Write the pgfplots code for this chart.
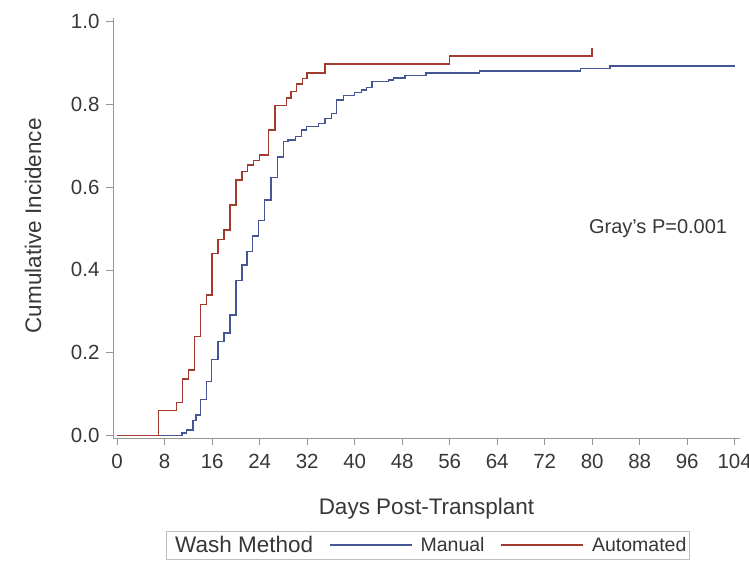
\documentclass[border=0pt]{standalone}
\usepackage{pgfplots}
\pgfplotsset{compat=1.18}
\usepackage{fontspec}
\setmainfont{Liberation Sans}
\definecolor{sasblue}{HTML}{445694}
\definecolor{sasred}{HTML}{A23A2E}
\definecolor{axgray}{RGB}{150,150,150}
\definecolor{txt}{RGB}{55,55,55}
\begin{document}
\begin{tikzpicture}
\begin{axis}[
 scale only axis, width=627pt, height=420pt,
 xmin=-0.7, xmax=104.9, ymin=-0.006, ymax=1.0085,
 axis x line*=bottom, axis y line*=left,
 axis line style={axgray, line width=0.8pt, -},
 tick style={axgray, line width=0.8pt},
 tick align=outside, major tick length=7pt,
 xtick={0,8,...,104}, ytick={0,0.2,0.4,0.6,0.8,1.0},
 y tick label style={/pgf/number format/.cd, fixed, fixed zerofill, precision=1, /tikz/.cd, xshift=-3pt},
 x tick label style={yshift=-6pt},
 /pgf/number format/assume math mode=true,
 ticklabel style={font=\fontsize{20.5}{23}\selectfont, text=txt},
 xlabel={Days Post-Transplant}, ylabel={Cumulative Incidence},
 every axis x label/.style={at={(axis description cs:0.5,-0.181)}, anchor=base, font=\fontsize{22.5}{26}\selectfont, text=txt},
 every axis y label/.style={at={(axis description cs:-0.1276,0.505)}, rotate=90, anchor=center, font=\fontsize{22.5}{26}\selectfont, text=txt},
 legend columns=3,
 legend style={at={(axis description cs:0.502,-0.2214)}, anchor=north, draw=black!25, line width=0.6pt,
   font=\fontsize{19.5}{22}\selectfont, text=txt, inner ysep=3pt, inner xsep=1pt,
   column sep=6pt, /tikz/every even column/.append style={column sep=14pt}},
 legend image code/.code={\draw[#1, line width=1.5pt] (0pt,0pt) -- (82pt,0pt);},
 const plot,
]
\addlegendimage{empty legend}
\addlegendentry{\fontsize{22.5}{26}\selectfont Wash Method}
\addplot[color=sasblue, line width=1.4pt] coordinates {
(0,0) (10.9,0.006) (11.7,0.013) (12.8,0.037) (13.3,0.050) (14,0.087) (15,0.130)
(15.9,0.184) (17,0.227) (18,0.248) (19,0.291) (20,0.374) (21,0.412) (21.9,0.444)
(22.8,0.482) (23.8,0.519) (24.8,0.569) (25.9,0.623) (27,0.673) (28,0.710) (28.8,0.714)
(30,0.722) (31,0.738) (31.9,0.746) (33.9,0.754) (35,0.766) (36.1,0.778) (36.9,0.810)
(38.1,0.822) (40,0.829) (41.2,0.835) (42,0.840) (42.9,0.855) (45.7,0.859) (46.5,0.864)
(48.5,0.869) (52,0.876) (61,0.880) (78,0.887) (83,0.893) (104,0.893)
};
\addlegendentry{Manual}
\addplot[color=sasred, line width=1.4pt] coordinates {
(0,0) (7,0.060) (10,0.080) (11,0.137) (12,0.158) (13,0.239) (14,0.317) (15,0.339)
(16,0.440) (17,0.474) (18,0.496) (19,0.557) (20,0.617) (21,0.637) (22,0.653) (23,0.665)
(24,0.678) (25.5,0.738) (26.6,0.797) (28.5,0.815) (29.3,0.831) (30.2,0.849) (31.2,0.863)
(32,0.876) (35,0.897) (56,0.917) (80,0.917) (80,0.935)
};
\addlegendentry{Automated}
\node[font=\fontsize{20}{24}\selectfont, text=txt] at (axis cs:91.1,0.50) {Gray's P=0.001};
\end{axis}
\pgfresetboundingbox
\path ([xshift=-113pt,yshift=438pt]current axis.south west) rectangle ([xshift=636pt,yshift=-124pt]current axis.south west);
\end{tikzpicture}
\end{document}
